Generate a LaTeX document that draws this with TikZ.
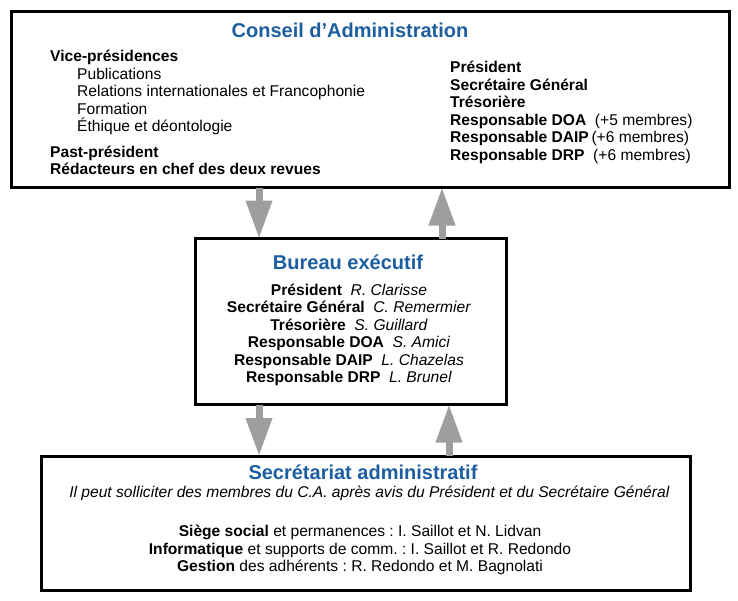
\documentclass[tikz,border=0pt]{standalone}
\usepackage{fontspec}
\setmainfont{Liberation Sans}
\usetikzlibrary{arrows.meta}
\definecolor{titleblue}{RGB}{28,94,160}
\definecolor{arrowgrey}{RGB}{158,158,158}
\frenchspacing

\begin{document}
\begin{tikzpicture}[x=1pt,y=-1pt]
	\tikzset{orgbox/.style={draw,line width=3pt,outer sep=0pt,inner sep=0pt,anchor=north west},
		boxtitle/.style={font=\fontsize{20}{24}\selectfont\bfseries,text=titleblue,inner sep=0pt},
		boxtext/.style={font=\fontsize{15.6}{17.5}\selectfont,inner sep=0pt},
		flowarrow/.style={draw=arrowgrey,line width=7pt,-{Triangle[length=38pt,width=25pt]}}};
	\useasboundingbox (0,0) rectangle (738,600);
	% the three boxes
	\node[orgbox,minimum width=718pt,minimum height=176pt] (ca) at (11.5,11.5) {};
	\node[orgbox,minimum width=311pt,minimum height=166pt] (be) at (195,238.5) {};
	\node[orgbox,minimum width=649pt,minimum height=134pt] (sa) at (41.5,456) {};
	% Conseil
	\node[boxtitle] (catitle) at (350,30) {Conseil d’Administration};
	\node[boxtext,align=left,anchor=north west] (caleft) at (50,50) {\textbf{Vice-présidences}\\
		\hspace*{27pt}Publications\\
		\hspace*{27pt}Relations internationales et Francophonie\\
		\hspace*{27pt}Formation\\
		\hspace*{27pt}Éthique et déontologie\\[8pt]
		\textbf{Past-président}\\
		\textbf{Rédacteurs en chef des deux revues}};
	\node[boxtext,align=left,anchor=north west] (caright) at (450,61) {\textbf{Président}\\
		\textbf{Secrétaire Général}\\
		\textbf{Trésorière}\\
		\textbf{Responsable DOA}\ \ (+5 membres)\\
		\textbf{Responsable DAIP}\,(+6 membres)\\
		\textbf{Responsable DRP}\ \ (+6 membres)};
	% Bureau
	\node[boxtitle] (betitle) at (348,262) {Bureau exécutif};
	\node[boxtext,align=center,anchor=north] (bemembers) at (349,283.5) {\textbf{Président}\ \ \textit{R. Clarisse}\\
		\textbf{Secrétaire Général}\ \ \textit{C. Remermier}\\
		\textbf{Trésorière}\ \ \textit{S. Guillard}\\
		\textbf{Responsable DOA}\ \ \textit{S. Amici}\\
		\textbf{Responsable DAIP}\ \ \textit{L. Chazelas}\\
		\textbf{Responsable DRP}\ \ \textit{L. Brunel}};
	% Secretariat
	\node[boxtitle] (satitle) at (363,472) {Secrétariat administratif};
	\node[boxtext,anchor=north] (sanote) at (369.5,486) {\textit{Il peut solliciter des membres du C.A. après avis du Président et du Secrétaire Général}};
	\node[boxtext,align=center,anchor=north] (sastaff) at (360,525) {\textbf{Siège social} et permanences : I. Saillot et N. Lidvan\\
		\textbf{Informatique} et supports de comm. : I. Saillot et R. Redondo\\
		\textbf{Gestion} des adhérents : R. Redondo et M. Bagnolati};
	% arrows
	\draw[flowarrow] (ca.south -| 259,0) -- (be.north -| 259,0);
	\draw[flowarrow] (be.north -| 442,0) -- (ca.south -| 442,0);
	\draw[flowarrow] (be.south -| 259,0) -- (sa.north -| 259,0);
	\draw[flowarrow] (sa.north -| 449,0) -- (be.south -| 449,0);
\end{tikzpicture}
\end{document}
